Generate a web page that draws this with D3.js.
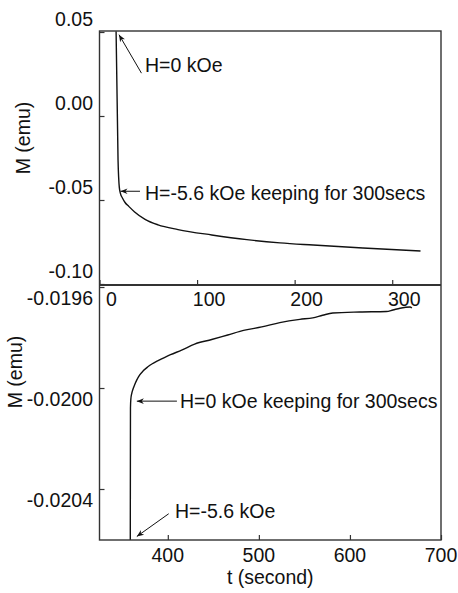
<!DOCTYPE html>
<html><head><meta charset="utf-8">
<script src="https://cdn.jsdelivr.net/npm/d3@7"></script>
<style>body{margin:0;background:#fff}svg{display:block}text{font-family:"Liberation Sans",Arial,sans-serif;fill:#111}</style>
</head><body>
<svg id="c" width="458" height="593"></svg>
<script>
// Top panel: H=-5.6 kOe held for 300 s
const topT = [17, 19, 20.3, 21.5, 23.5, 26.2, 30, 36, 46.7, 60, 80.5, 115, 151, 185, 219, 270, 329];
const topM = [0.0505, -0.0262, -0.0425, -0.0462, -0.0488, -0.0515, -0.0538, -0.0571, -0.0615, -0.0648, -0.0676, -0.0708, -0.0736, -0.0755, -0.0768, -0.0786, -0.0804];
// Bottom panel: H=0 kOe held for 300 s
const botT = [358.8, 359.0, 359.4, 360.5, 362, 363.5, 366, 369, 373, 377.8, 383, 388.8, 393.2, 403, 415.2, 429.5, 448.2, 465.8, 484.5, 503.2, 523, 545, 559.2, 570, 581.2, 611, 640, 647.2, 655, 666, 668];
const botM = [-0.02062, -0.02008, -0.020045, -0.02002, -0.020002, -0.019988, -0.019968, -0.019949, -0.019932, -0.019917, -0.019904, -0.019893, -0.019885, -0.019868, -0.01985, -0.019826, -0.019808, -0.01979, -0.019771, -0.019758, -0.019741, -0.019728, -0.019722, -0.019712, -0.019703, -0.019699, -0.019697, -0.019691, -0.019684, -0.019679, -0.019683];
const topXTicks = [0, 100, 200, 300];
const topYTicks = [0.05, 0.00, -0.05, -0.10];
const botXTicks = [400, 500, 600, 700];
const botYTicks = [-0.0196, -0.0200, -0.0204];
const topYLabels = ["0.05", "0.00", "-0.05", "-0.10"];
const botYLabels = ["-0.0196", "-0.0200", "-0.0204"];
const yTitle = "M (emu)";
const xTitle = "t (second)";
const notes = ["H=0 kOe", "H=-5.6 kOe keeping for 300secs", "H=0 kOe keeping for 300secs", "H=-5.6 kOe"];

const svg = d3.select("#c");
const L = 99.5, R = 441, T = 31, MID = 285, B = 540;
const x0 = d3.scaleLinear().domain([0, 350]).range([L, R]);
const y0 = d3.scaleLinear().domain([-0.1006, 0.0506]).range([MID, T]);
const x1 = d3.scaleLinear().domain([325, 700]).range([L, R]);
const y1 = d3.scaleLinear().domain([-0.020602, -0.019592]).range([B, MID]);
const FS = 19.5;

const defs = svg.append("defs");
defs.append("clipPath").attr("id", "cp0").append("rect").attr("x", L).attr("y", T).attr("width", R - L).attr("height", MID - T);
defs.append("clipPath").attr("id", "cp1").append("rect").attr("x", L).attr("y", MID).attr("width", R - L).attr("height", B - MID);
defs.append("marker").attr("id", "ah").attr("viewBox", "0 0 10 10").attr("refX", 10).attr("refY", 5)
  .attr("markerWidth", 9).attr("markerHeight", 7).attr("markerUnits", "userSpaceOnUse").attr("orient", "auto")
  .append("path").attr("d", "M0,1 L10,5 L0,9 L3,5 Z").attr("fill", "#111");

// axes ticks (inward)
function styleAxis(g) { g.select(".domain").remove(); g.selectAll("line").attr("stroke", "#333").attr("stroke-width", 1.2); g.selectAll("text").remove(); }
svg.append("g").attr("transform", `translate(${L},0)`).call(d3.axisLeft(y0).tickValues(topYTicks).tickSize(-5)).call(styleAxis);
svg.append("g").attr("transform", `translate(0,${MID})`).call(d3.axisBottom(x0).tickValues(topXTicks).tickSize(-5)).call(styleAxis);
svg.append("g").attr("transform", `translate(${L},0)`).call(d3.axisLeft(y1).tickValues(botYTicks).tickSize(-5)).call(styleAxis);
svg.append("g").attr("transform", `translate(0,${B})`).call(d3.axisBottom(x1).tickValues(botXTicks).tickSize(-5)).call(styleAxis);

// tick labels
const tl = svg.append("g").attr("font-size", FS);
tl.selectAll(".ty").data(topYTicks).join("text").attr("x", 93).attr("y", (d) => y0(d) - 13).attr("dy", "0.35em")
  .attr("text-anchor", "end").text((d, i) => topYLabels[i]);
tl.selectAll(".by").data(botYTicks).join("text").attr("x", 93).attr("y", (d) => y1(d) + 11).attr("dy", "0.35em")
  .attr("text-anchor", "end").text((d, i) => botYLabels[i]);
tl.selectAll(".tx").data(topXTicks).join("text").attr("x", (d) => x0(d) + 12).attr("y", 306)
  .attr("text-anchor", "middle").text((d) => d);
tl.selectAll(".bx").data(botXTicks).join("text").attr("x", (d) => x1(d)).attr("y", 562)
  .attr("text-anchor", "middle").text((d) => d);

// titles
svg.append("text").attr("font-size", FS).attr("text-anchor", "middle").attr("transform", "translate(30,138) rotate(-90)").text(yTitle);
svg.append("text").attr("font-size", FS).attr("text-anchor", "middle").attr("transform", "translate(22,372) rotate(-90)").text(yTitle);
svg.append("text").attr("font-size", FS).attr("text-anchor", "middle").attr("x", (L + R) / 2).attr("y", 584).text(xTitle);

// curves
const line0 = d3.line().x((d) => x0(d[0])).y((d) => y0(d[1])).curve(d3.curveMonotoneX);
const line1 = d3.line().x((d) => x1(d[0])).y((d) => y1(d[1])).curve(d3.curveMonotoneX);
svg.append("path").attr("clip-path", "url(#cp0)").attr("d", line0(d3.zip(topT, topM)))
  .attr("fill", "none").attr("stroke", "#111").attr("stroke-width", 1.4).attr("stroke-linejoin", "round");
svg.append("path").attr("clip-path", "url(#cp1)").attr("d", line1(d3.zip(botT, botM)))
  .attr("fill", "none").attr("stroke", "#111").attr("stroke-width", 1.4).attr("stroke-linejoin", "round");

// frames
svg.append("rect").attr("x", L).attr("y", T).attr("width", R - L).attr("height", B - T)
  .attr("fill", "none").attr("stroke", "#333").attr("stroke-width", 1.4);
svg.append("line").attr("x1", L).attr("x2", R).attr("y1", MID).attr("y2", MID).attr("stroke", "#333").attr("stroke-width", 2.2);

// annotations
const ann = svg.append("g").attr("font-size", FS);
function arrow(xa, ya, xb, yb) {
  svg.append("line").attr("x1", xa).attr("y1", ya).attr("x2", xb).attr("y2", yb)
    .attr("stroke", "#111").attr("stroke-width", 1).attr("marker-end", "url(#ah)");
}
ann.append("text").attr("x", 145).attr("y", 72).text(notes[0]);
arrow(x0(43), y0(0.0255), x0(20), y0(0.0484));
ann.append("text").attr("x", 145).attr("y", 200).text(notes[1]);
arrow(x0(41.5), y0(-0.0448), x0(21.5), y0(-0.0448));
ann.append("text").attr("x", 180).attr("y", 408).text(notes[2]);
arrow(x1(410), y1(-0.020052), x1(366), y1(-0.020052));
ann.append("text").attr("x", 175).attr("y", 518).text(notes[3]);
arrow(x1(401), y1(-0.020498), x1(366), y1(-0.020588));
</script>
</body></html>
